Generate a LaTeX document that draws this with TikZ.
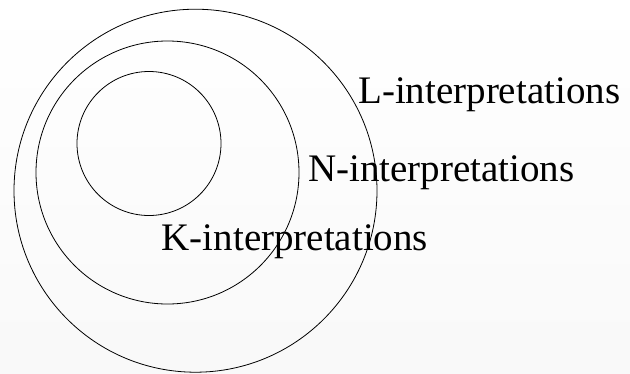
\documentclass[tikz,border=0pt]{standalone}
\usepackage{fontspec}
\setmainfont{Liberation Serif}
\usetikzlibrary{positioning}

\begin{document}
\begin{tikzpicture}[
    x=1pt, y=-1pt,
    set/.style={circle, draw, line width=0.8pt, inner sep=0pt},
    setname/.style={anchor=base west, inner sep=0pt, font=\fontsize{39}{46}\selectfont}
]
    % Background
    \fill[top color=white, bottom color=gray!5] (0,0) rectangle (630,373);
    \useasboundingbox (0,0) rectangle (630,373);

    % Nested sets
    \node[set, minimum size=363pt] (lset) at (195.5,190.7) {};
    \node[set, minimum size=263pt] (nset) at (167.5,172.5) {};
    \node[set, minimum size=144pt] (kset) at (149,143.5) {};

    % Names
    \node[setname] (lname) at (358,103.3) {L-interpretations};
    \node[setname] (nname) at (308,181.7) {N-interpretations};
    \node[setname] (kname) at (161.5,250) {K-interpretations};
\end{tikzpicture}
\end{document}
